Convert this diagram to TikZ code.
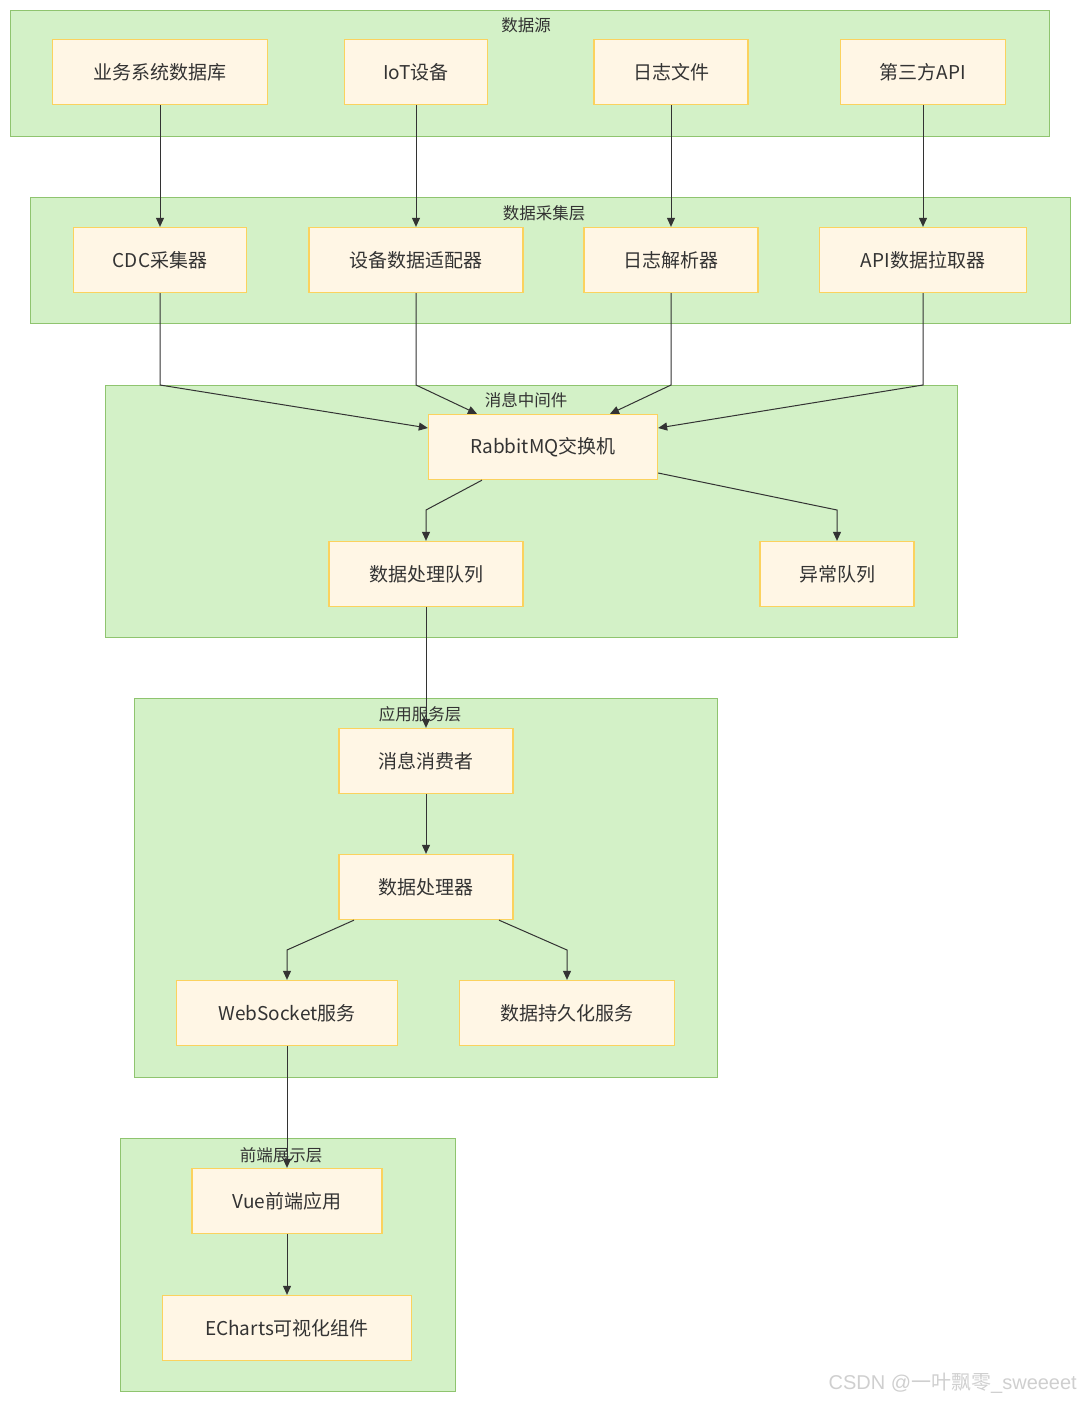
\documentclass[tikz,border=0pt]{standalone}
\usepackage{fontspec}
\setmainfont{Noto Sans CJK SC}
\newfontfamily\wmfont{Liberation Sans}
\usetikzlibrary{arrows.meta}
\definecolor{grpfill}{HTML}{D3F1C7}
\definecolor{grpdraw}{HTML}{8FC46F}
\definecolor{boxfill}{HTML}{FFF6E5}
\definecolor{boxdraw}{HTML}{FBD25E}
\definecolor{txt}{HTML}{333333}
\definecolor{wm}{HTML}{CFCFCF}
\tikzset{
  grp/.style={draw=grpdraw, fill=grpfill, line width=1.3pt, rectangle, anchor=north west, inner sep=0pt},
  grplbl/.style={text=txt, font=\fontsize{16.5}{18}\selectfont, inner sep=0pt},
  box/.style={draw=boxdraw, fill=boxfill, line width=1.3pt, rectangle, minimum height=65pt, inner sep=0pt, text=txt, font=\fontsize{19}{22}\selectfont},
  arr/.style={draw=txt, line width=1pt, -{Triangle[length=9pt,width=8pt]}},
}
\begin{document}
\begin{tikzpicture}[x=1pt,y=-1pt]
\useasboundingbox (0,0) rectangle (1080,1401);
% groups
\node[grp, minimum width=1039pt, minimum height=126pt] (g1) at (10,10) {};
\node[grplbl] (g1l) at (526,25) {数据源};
\node[grp, minimum width=1040pt, minimum height=126pt] (g2) at (30,197) {};
\node[grplbl] (g2l) at (544,213) {数据采集层};
\node[grp, minimum width=852pt, minimum height=252pt] (g3) at (105,385) {};
\node[grp, minimum width=583pt, minimum height=379pt] (g4) at (134,698) {};
\node[grp, minimum width=335pt, minimum height=253pt] (g5) at (120,1138) {};
% nodes row 1
\node[box, minimum width=215pt] (db) at (160,72) {业务系统数据库};
\node[box, minimum width=143pt] (iot) at (416,72) {IoT设备};
\node[box, minimum width=154pt] (log) at (671,72) {日志文件};
\node[box, minimum width=165pt] (api) at (923,72) {第三方API};
% row 2
\node[box, minimum width=173pt] (cdc) at (160,260) {CDC采集器};
\node[box, minimum width=214pt] (dev) at (416,260) {设备数据适配器};
\node[box, minimum width=174pt] (lp) at (671,260) {日志解析器};
\node[box, minimum width=207pt] (apip) at (923,260) {API数据拉取器};
% middleware
\node[box, minimum width=229pt] (rmq) at (543,447) {RabbitMQ交换机};
\node[box, minimum width=194pt] (dq) at (426,574) {数据处理队列};
\node[box, minimum width=154pt] (eq) at (837,574) {异常队列};
% app
\node[box, minimum width=174pt] (mc) at (426,761) {消息消费者};
\node[box, minimum width=174pt] (dp) at (426,887) {数据处理器};
\node[box, minimum width=221pt] (ws) at (287,1013) {WebSocket服务};
\node[box, minimum width=215pt] (ps) at (567,1013) {数据持久化服务};
% front
\node[box, minimum width=190pt] (vue) at (287,1201) {Vue前端应用};
\node[box, minimum width=249pt] (ec) at (287,1328) {ECharts可视化组件};
% arrows
\draw[arr] (db.south) -- (cdc.north);
\draw[arr] (iot.south) -- (dev.north);
\draw[arr] (log.south) -- (lp.north);
\draw[arr] (api.south) -- (apip.north);
\coordinate (c1) at (160,385);
\coordinate (c2) at (416,385);
\coordinate (c3) at (671,385);
\coordinate (c4) at (923,385);
\draw[arr] (cdc.south) -- (c1) -- ([yshift=19pt]rmq.west);
\draw[arr] (dev.south) -- (c2) -- ([xshift=-66pt]rmq.north);
\draw[arr] (lp.south) -- (c3) -- ([xshift=67pt]rmq.north);
\draw[arr] (apip.south) -- (c4) -- ([yshift=19pt]rmq.east);
\coordinate (c5) at (426,510);
\coordinate (c6) at (837,510);
\draw[arr] ([xshift=-61pt]rmq.south) -- (c5) -- (dq.north);
\draw[arr] ([yshift=-26pt]rmq.east) -- (c6) -- (eq.north);
\draw[arr] (dq.south) -- (mc.north);
\draw[arr] (mc.south) -- (dp.north);
\coordinate (c7) at (287,950);
\coordinate (c8) at (567,950);
\draw[arr] ([xshift=-72pt]dp.south) -- (c7) -- (ws.north);
\draw[arr] ([xshift=73pt]dp.south) -- (c8) -- (ps.north);
\draw[arr] (ws.south) -- (vue.north);
\draw[arr] (vue.south) -- (ec.north);
% group labels drawn over
\node[grplbl] (g3l) at (526,400) {消息中间件};
\node[grplbl] (g4l) at (420,714) {应用服务层};
\node[grplbl] (g5l) at (281,1155) {前端展示层};
% watermark
\node[anchor=east, text=wm, font=\fontsize{20}{22}\selectfont, inner sep=0pt] (wmk) at (1077,1383) {{\wmfont CSDN @}一叶飘零{\wmfont \_sweeeet}};
\end{tikzpicture}
\end{document}
